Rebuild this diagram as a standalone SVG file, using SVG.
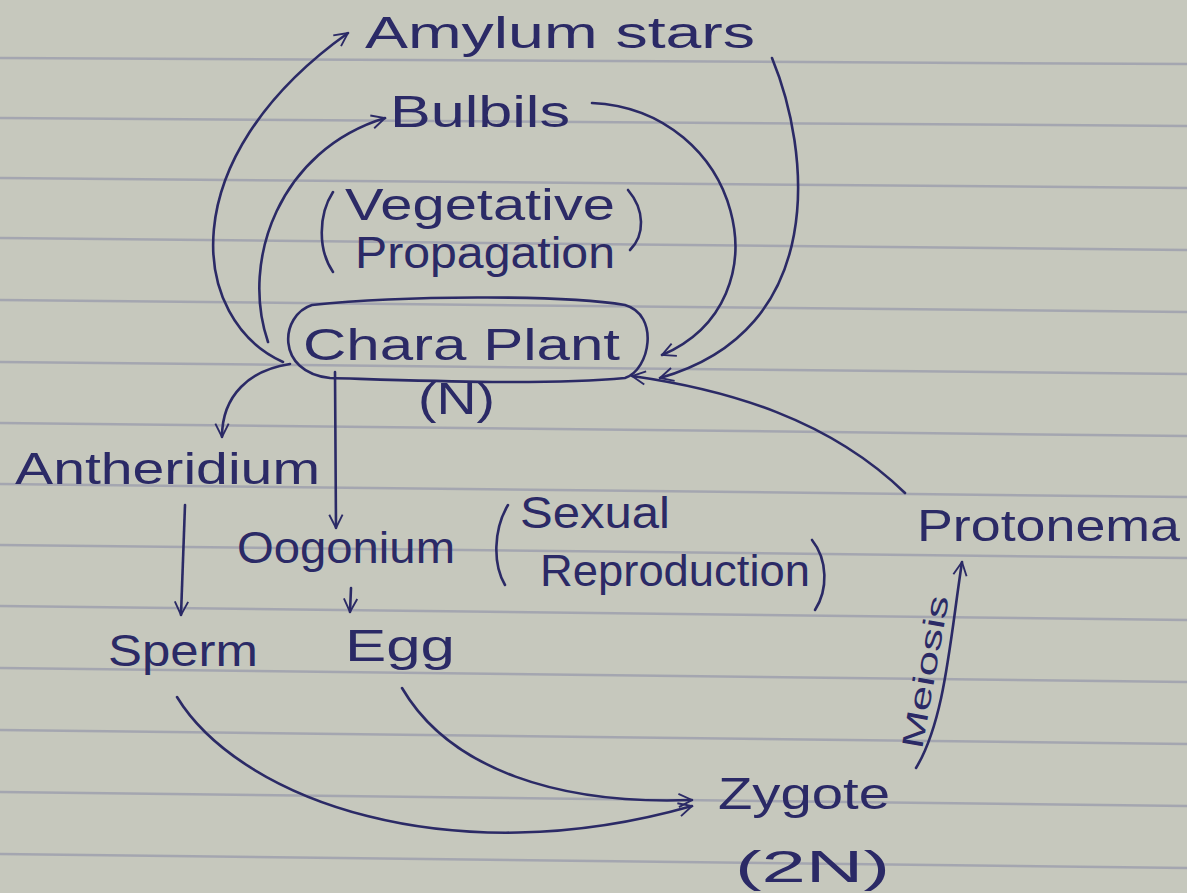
<svg xmlns="http://www.w3.org/2000/svg" width="1187" height="893" viewBox="0 0 1187 893">
<style>
.t{font-family:"Liberation Sans",Arial,sans-serif;font-size:44px;fill:#2b2a66;}
.c{fill:none;stroke:#2b2a66;stroke-width:2.6;stroke-linecap:round;}
.rule{stroke:#8f91a8;stroke-width:2.5;opacity:0.6;}
</style>
<defs>
<marker id="ah2" viewBox="0 0 12 12" refX="11" refY="6" markerWidth="16" markerHeight="16" orient="auto" markerUnits="userSpaceOnUse">
<path d="M1,1 L11,6 L1,11" fill="none" stroke="#2b2a66" stroke-width="1.4"/>
</marker>
</defs>
<rect width="1187" height="893" fill="#c6c8bd"/>
<g id="paper-lines">
<line class="rule" x1="0" y1="58" x2="1187" y2="64"/>
<line class="rule" x1="0" y1="118" x2="1187" y2="126"/>
<line class="rule" x1="0" y1="178" x2="1187" y2="188"/>
<line class="rule" x1="0" y1="238" x2="1187" y2="250"/>
<line class="rule" x1="0" y1="300" x2="1187" y2="312"/>
<line class="rule" x1="0" y1="362" x2="1187" y2="374"/>
<line class="rule" x1="0" y1="423" x2="1187" y2="436"/>
<line class="rule" x1="0" y1="484" x2="1187" y2="497"/>
<line class="rule" x1="0" y1="545" x2="1187" y2="558"/>
<line class="rule" x1="0" y1="606" x2="1187" y2="620"/>
<line class="rule" x1="0" y1="668" x2="1187" y2="682"/>
<line class="rule" x1="0" y1="730" x2="1187" y2="744"/>
<line class="rule" x1="0" y1="792" x2="1187" y2="806"/>
<line class="rule" x1="0" y1="854" x2="1187" y2="868"/>
</g>
<g id="connectors">
<path class="c" d="M283,362 C190,320 170,160 348,33" marker-end="url(#ah2)"/>
<path class="c" d="M268,342 C240,260 280,150 385,118" marker-end="url(#ah2)"/>
<path class="c" d="M592,103 C740,110 790,300 662,355" marker-end="url(#ah2)"/>
<path class="c" d="M772,58 C810,150 830,330 660,378" marker-end="url(#ah2)"/>
<path class="c" d="M905,493 C830,420 730,390 632,376" marker-end="url(#ah2)"/>
<path class="c" d="M290,364 C250,370 222,395 222,437" marker-end="url(#ah2)"/>
<path class="c" d="M335,372 L336,528" marker-end="url(#ah2)"/>
<path class="c" d="M185,505 L181,615" marker-end="url(#ah2)"/>
<path class="c" d="M351,588 L350,612" marker-end="url(#ah2)"/>
<path class="c" d="M177,697 C240,800 450,875 692,806" marker-end="url(#ah2)"/>
<path class="c" d="M402,688 C450,770 560,805 692,800" marker-end="url(#ah2)"/>
<path class="c" d="M916,768 C945,720 950,640 962,562" marker-end="url(#ah2)"/>
</g>
<g id="amylum">
<text class="t" x="365" y="48" textLength="390" lengthAdjust="spacingAndGlyphs">Amylum stars</text>
</g>
<g id="bulbils">
<text class="t" x="390" y="127" textLength="180" lengthAdjust="spacingAndGlyphs">Bulbils</text>
</g>
<g id="vegetative">
<path class="c" d="M333,192 C318,215 318,250 333,272"/>
<path class="c" d="M628,190 C645,210 645,235 630,250"/>
<text class="t" x="345" y="220" textLength="270" lengthAdjust="spacingAndGlyphs">Vegetative</text>
<text class="t" x="355" y="268" textLength="260" lengthAdjust="spacingAndGlyphs">Propagation</text>
</g>
<g id="chara">
<path class="c" d="M312,305 C400,296 560,294 625,305 C660,315 650,370 625,378 C540,386 400,380 330,378 C275,372 280,315 312,305 Z"/>
<text class="t" x="303" y="360" textLength="317" lengthAdjust="spacingAndGlyphs">Chara Plant</text>
<text class="t" x="418" y="414" textLength="77" lengthAdjust="spacingAndGlyphs">(N)</text>
</g>
<g id="antheridium">
<text class="t" x="15" y="484" textLength="305" lengthAdjust="spacingAndGlyphs">Antheridium</text>
</g>
<g id="oogonium">
<text class="t" x="237" y="563" textLength="218" lengthAdjust="spacingAndGlyphs">Oogonium</text>
</g>
<g id="sexual">
<path class="c" d="M508,505 C493,530 493,565 505,585"/>
<path class="c" d="M812,540 C828,560 828,590 815,610"/>
<text class="t" x="520" y="528" textLength="150" lengthAdjust="spacingAndGlyphs">Sexual</text>
<text class="t" x="540" y="586" textLength="270" lengthAdjust="spacingAndGlyphs">Reproduction</text>
</g>
<g id="protonema">
<text class="t" x="917" y="541" textLength="263" lengthAdjust="spacingAndGlyphs">Protonema</text>
</g>
<g id="sperm">
<text class="t" x="108" y="666" textLength="150" lengthAdjust="spacingAndGlyphs">Sperm</text>
</g>
<g id="egg">
<text class="t" x="345" y="661" textLength="110" lengthAdjust="spacingAndGlyphs">Egg</text>
</g>
<g id="zygote">
<text class="t" x="718" y="809" textLength="172" lengthAdjust="spacingAndGlyphs">Zygote</text>
<text class="t" x="735" y="882" textLength="155" lengthAdjust="spacingAndGlyphs">(2N)</text>
</g>
<g id="meiosis">
<text class="t" style="font-size:30px" transform="translate(922,750) rotate(-80)" textLength="155" lengthAdjust="spacingAndGlyphs">Meiosis</text>
</g>
</svg>
